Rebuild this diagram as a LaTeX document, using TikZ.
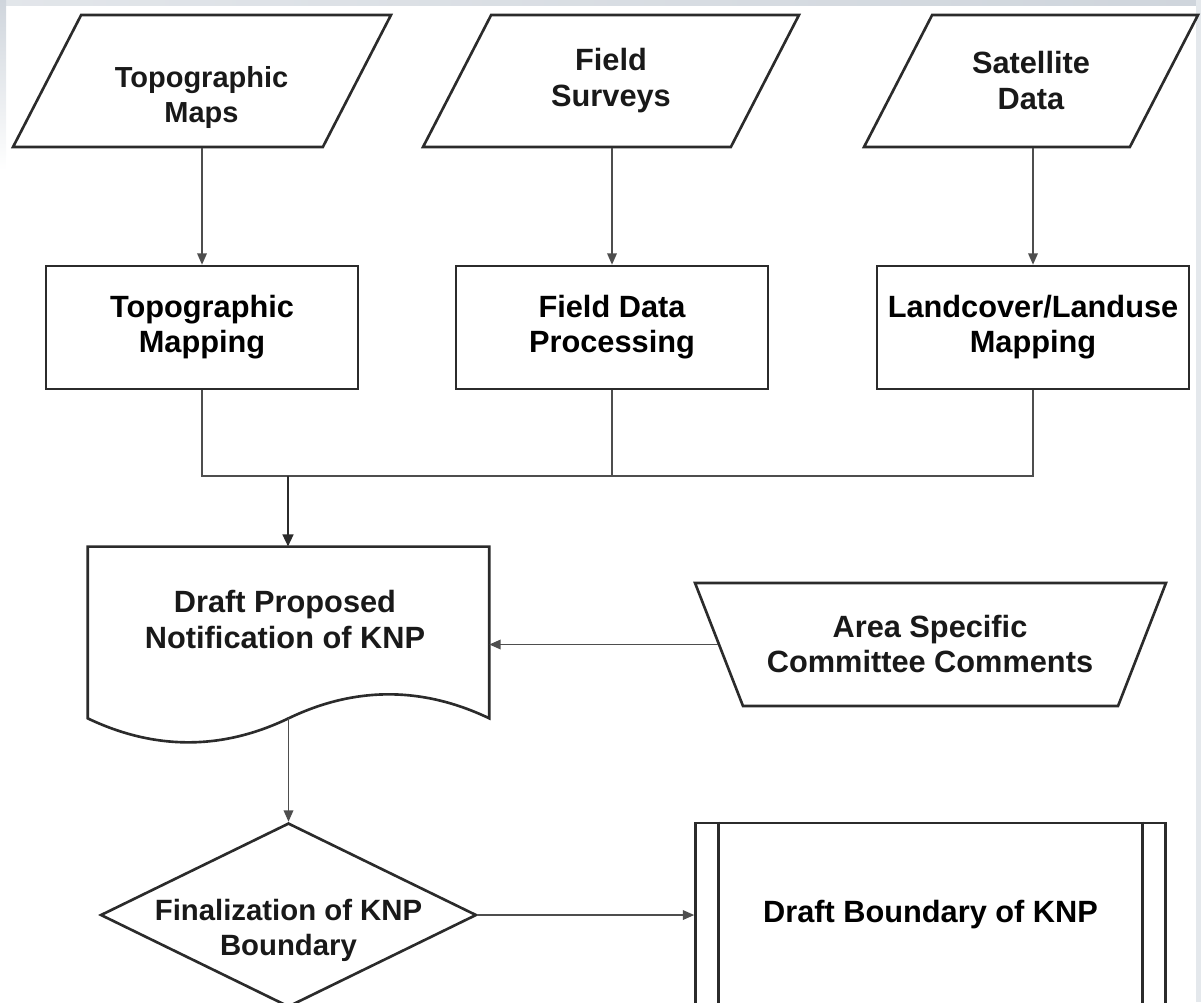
\documentclass[tikz,border=0pt]{standalone}
\usepackage{fontspec}
\setmainfont{Liberation Sans}
\usepackage{xcolor}
\usepackage{tikz}
\usetikzlibrary{positioning}
\usetikzlibrary{shapes.geometric}
\usetikzlibrary{arrows.meta}
\usetikzlibrary{calc}

\definecolor{edge}{HTML}{2B2B2B}
\definecolor{wirec}{HTML}{4E4E4E}
\definecolor{rim}{HTML}{CFD5DC}

\begin{document}
\begin{tikzpicture}[
  x=0.02cm, y=-0.02cm,
  font=\bfseries\fontsize{17.5pt}{20pt}\selectfont,
  outline/.style={draw=edge, line width=1.5pt, line join=miter},
  io/.style={outline, trapezium, trapezium left angle=62.7, trapezium right angle=117.3,
    trapezium stretches body=true, inner xsep=2pt, inner ysep=1.32cm},
  proc/.style={outline, rectangle, align=center, inner sep=0pt,
    minimum width=6.24cm, minimum height=2.46cm},
  docbox/.style={rectangle, inner sep=2pt, minimum width=8.02cm, minimum height=3.42cm},
  manual/.style={outline, trapezium, trapezium left angle=111.3, trapezium right angle=111.3,
    trapezium stretches body=true, inner xsep=2pt, inner ysep=1.23cm, minimum width=9.42cm},
  decision/.style={outline, diamond, inner sep=2pt, minimum width=7.52cm, minimum height=3.68cm},
  predef/.style={outline, rectangle, align=center, inner sep=0pt,
    minimum width=9.4cm, minimum height=3.68cm},
  txt/.style={align=center, inner sep=0pt, text=black!90},
  wire/.style={draw=wirec, line width=0.85pt},
  flow/.style={wire, -{Triangle[length=6.5pt, width=5.5pt]}},
  mainflow/.style={draw=edge, line width=1.6pt, -{Triangle[length=7pt, width=6pt]}}
]
\useasboundingbox (0,0) rectangle (1201,1002);
\clip (0,0) rectangle (1201,1002);

% Grey rim of the scanned page
\shade[left color=rim!60, right color=rim] (0,0) rectangle (1201,5);
\shade[top color=rim, bottom color=white] (0,0) rectangle (6,170);
\fill[rim!55] (1196,0) rectangle (1201,1002);

% Input data
\node[io, minimum width=7.56cm] (topo) at (202,81) {};
\node[io, minimum width=7.52cm] (survey) at (611,81) {};
\node[io, minimum width=6.68cm] (sat) at (1031,81) {};
\node[txt, font=\bfseries\fontsize{16.5pt}{20pt}\selectfont] (topotxt) at (201.5,97.5) {Topographic\\Maps};
\node[txt] (surveytxt) at (611,80.5) {Field\\Surveys};
\node[txt] (sattxt) at (1031,80.5) {Satellite\\Data};

% Processing
\node[proc] (topomap) at (202,327.5) {Topographic\\Mapping};
\node[proc] (fieldproc) at (612,327.5) {Field Data\\Processing};
\node[proc] (lulc) at (1033,327.5) {Landcover/Landuse\\Mapping};

% Draft notification (document with wavy foot)
\node[docbox] (draft) at (288.5,632.5) {};
\draw[outline] (draft.south west) -- (draft.north west) -- (draft.north east) -- (draft.south east)
  .. controls ($(draft.south east)+(-67,-32)$) and ($(draft.south)+(66.5,-32)$) .. (draft.south)
  .. controls ($(draft.south)+(-66.5,32)$) and ($(draft.south west)+(67,32)$) .. (draft.south west) -- cycle;
\node[txt] (drafttxt) at (285,619.5) {Draft Proposed\\Notification of KNP};

\node[manual] (comments) at (930.5,644.5) {};
\node[txt] (commentstxt) at (930,644) {Area Specific\\Committee Comments};

% Decision and result
\node[decision] (final) at (288.5,915) {};
\node[txt, font=\bfseries\fontsize{16.7pt}{20pt}\selectfont] (finaltxt) at (288.5,930.5) {Finalization of KNP\\Boundary};
\node[predef] (boundary) at (930.5,915) {Draft Boundary of KNP};
\draw[outline] ([xshift=0.48cm]boundary.north west) -- ([xshift=0.48cm]boundary.south west);
\draw[outline] ([xshift=-0.48cm]boundary.north east) -- ([xshift=-0.48cm]boundary.south east);

% Connectors
\draw[flow] (topo.south -| topomap.north) -- (topomap.north);
\draw[flow] (survey.south -| fieldproc.north) -- (fieldproc.north);
\draw[flow] (sat.south -| lulc.north) -- (lulc.north);

\coordinate (bus) at (288,476);
\draw[wire] (topomap.south) |- (bus -| lulc.south) -- (lulc.south);
\draw[wire] (fieldproc.south) -- (fieldproc.south |- bus);
\draw[mainflow] (bus) -- (bus |- draft.north);

\draw[flow] (comments.left side) -- (comments.left side -| draft.east);
\draw[flow] (draft.south) -- (final.north);
\draw[flow] (final.east) -- (boundary.west);

\end{tikzpicture}
\end{document}
